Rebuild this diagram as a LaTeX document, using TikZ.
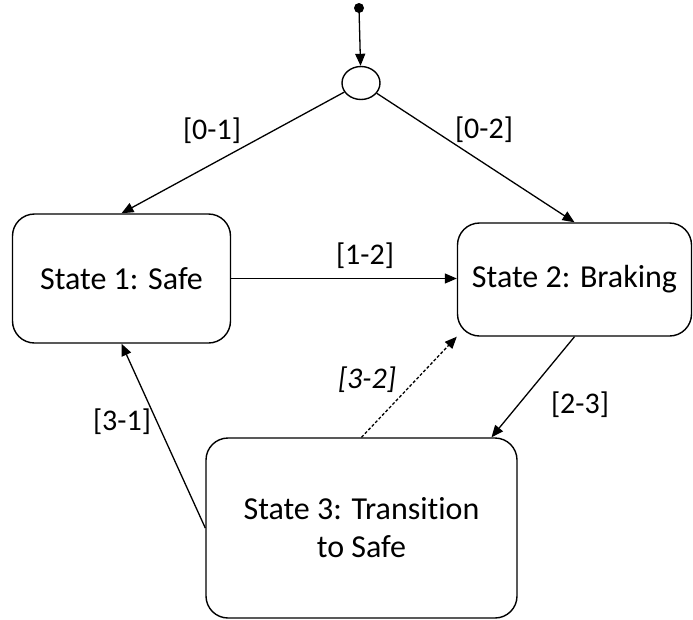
\documentclass[tikz,border=0pt]{standalone}
\usepackage{fontspec}
\setmainfont{Carlito}[RawFeature=-liga]
\usetikzlibrary{arrows.meta,shapes.geometric}
\begin{document}
\begin{tikzpicture}[x=1pt,y=-1pt,
  state/.style={draw, rounded corners=22pt, line width=1.4pt, align=center,
    font=\fontsize{32}{38}\selectfont, inner sep=0pt},
  trans/.style={-{Triangle[length=12pt,width=10pt]}, line width=1.3pt},
  lbl/.style={font=\fontsize{30}{36}\selectfont, inner sep=0pt}
]
\useasboundingbox (0,0) rectangle (693,619);

% start marker and initial pseudo-state
\fill (359,8) circle (5pt) coordinate (start);
\node[draw, ellipse, line width=1.4pt, minimum width=38pt, minimum height=33pt, inner sep=0pt] (init) at (361,83) {};

% states
\node[state, minimum width=218pt, minimum height=129pt] (s1) at (121.5,278.5) {State 1: Safe};
\node[state, minimum width=234pt, minimum height=113pt] (s2) at (574.5,279.5) {State 2: Braking};
\node[state, minimum width=311pt, minimum height=180pt] (s3) at (361.5,528) {State 3: Transition\\to Safe};

% transitions
\draw[trans] (start) -- (init);
\draw[trans] (init) -- (s1.north);
\draw[trans] (init) -- (s2.north);
\draw[trans] (s1.east) -- (s1.east -| s2.west);
\draw[trans] (s2.south) -- ([xshift=130pt]s3.north);
\draw[trans, dash pattern=on 3pt off 2pt] (s3.north) -- (s2.south west);
\draw[trans] (s3.west) -- (s1.south);

% labels
\node[lbl] (l01) at (212,131) {[0-1]};
\node[lbl] (l02) at (484,130) {[0-2]};
\node[lbl] (l12) at (365,256) {[1-2]};
\node[lbl] (l23) at (580,405) {[2-3]};
\node[lbl, font=\fontsize{30}{36}\selectfont\itshape] (l32) at (367,380) {[3-2]};
\node[lbl] (l31) at (122,422) {[3-1]};
\end{tikzpicture}
\end{document}
